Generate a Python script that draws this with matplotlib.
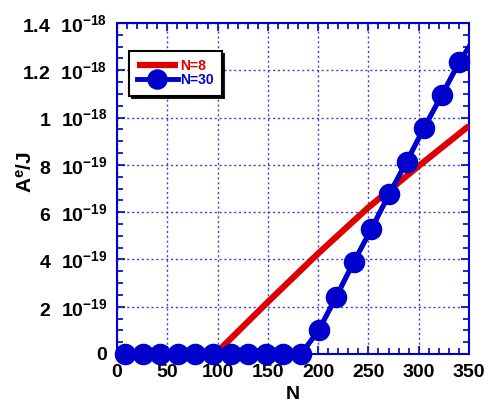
import matplotlib.pyplot as plt
import matplotlib.ticker as ticker

plt.rcParams['font.family'] = ['Liberation Sans', 'DejaVu Sans']
plt.rcParams['mathtext.fontset'] = 'custom'
plt.rcParams['mathtext.rm'] = 'Liberation Sans:bold'
plt.rcParams['mathtext.it'] = 'Liberation Sans:bold'

# N=8 curve (values in 1e-19 J)
n8_x = [0, 100, 150, 200, 250, 300, 350]
n8_y = [0, 0.1, 2.2, 4.25, 6.2, 7.95, 9.65]

# N=30 curve: markers
n30_x = [8, 25.5, 43, 60.5, 78, 95.5, 113, 130.5, 148, 165.5, 183,
         200.5, 218, 235.5, 253, 270.5, 288, 305.5, 323, 340.5]
n30_y = [0, 0, 0, 0, 0, 0, 0, 0, 0, 0, 0,
         1.0, 2.42, 3.9, 5.29, 6.75, 8.13, 9.58, 10.95, 12.36]
n30_end = (350, 13.0)

ytick_vals = [0, 2, 4, 6, 8, 10, 12, 14]
ytick_labels = ['0', r'2 $\ 10^{-19}$', r'4 $\ 10^{-19}$', r'6 $\ 10^{-19}$',
                r'8 $\ 10^{-19}$', r'1 $\ 10^{-18}$', r'1.2 $\ 10^{-18}$',
                r'1.4 $\ 10^{-18}$']

fig = plt.figure(figsize=(4.89, 4.03), dpi=100)
ax = fig.add_axes([0.2393, 0.1216, 0.7197, 0.8213])

blue = '#0000cc'
red = '#dd0000'

ax.plot(n8_x, [v * 1e-19 for v in n8_y], color=red, lw=4.5,
        solid_capstyle='butt', label='N=8', zorder=3)
ax.plot([0] + n30_x + [n30_end[0]], [0] + [v * 1e-19 for v in n30_y] + [n30_end[1] * 1e-19],
        color=blue, lw=3.5, zorder=4)
ax.plot(n30_x, [v * 1e-19 for v in n30_y], color=blue, lw=3.5, marker='o',
        ms=14.5, label='N=30', clip_on=False, zorder=5)

ax.set_xlim(0, 350)
ax.set_ylim(0, 1.4e-18)
ax.set_xticks(range(0, 351, 50))
ax.xaxis.set_minor_locator(ticker.MultipleLocator(10))
ax.set_yticks([v * 1e-19 for v in ytick_vals])
ax.set_yticklabels(ytick_labels)
ax.yaxis.set_minor_locator(ticker.MultipleLocator(0.5e-19))

ax.tick_params(which='both', direction='in', top=True, right=True, color=blue,
               labelsize=14)
ax.tick_params(which='major', length=6, width=1.2, pad=7)
ax.tick_params(which='minor', length=4, width=1.2)
for lab in ax.get_xticklabels() + ax.get_yticklabels():
    lab.set_fontweight('bold')
for s in ax.spines.values():
    s.set_color(blue)
    s.set_linewidth(1.5)

ax.grid(True, which='major', color=blue, ls=(0, (1.5, 2)), lw=1.0, alpha=0.75)
ax.set_axisbelow(True)

ax.set_xlabel('N', fontsize=14, fontweight='bold', labelpad=4)
ax.set_ylabel(r'A$^{\mathregular{e}}$/J', fontsize=15, fontweight='bold')
ax.yaxis.set_label_coords(-0.23, 0.55)

leg = ax.legend(loc='upper left', bbox_to_anchor=(129 / 489, 1 - 51 / 403),
                bbox_transform=fig.transFigure, frameon=True, fancybox=False,
                shadow={'color': 'black', 'alpha': 0.9}, edgecolor='black',
                handlelength=2.9, handletextpad=0.15, labelspacing=0.0,
                borderpad=0.6, borderaxespad=0, markerscale=0.95,
                prop={'weight': 'bold', 'size': 10})
leg.get_frame().set_linewidth(1.5)
leg.get_texts()[0].set_color(red)
leg.get_texts()[1].set_color(blue)

fig.savefig('out.png', dpi=100)
